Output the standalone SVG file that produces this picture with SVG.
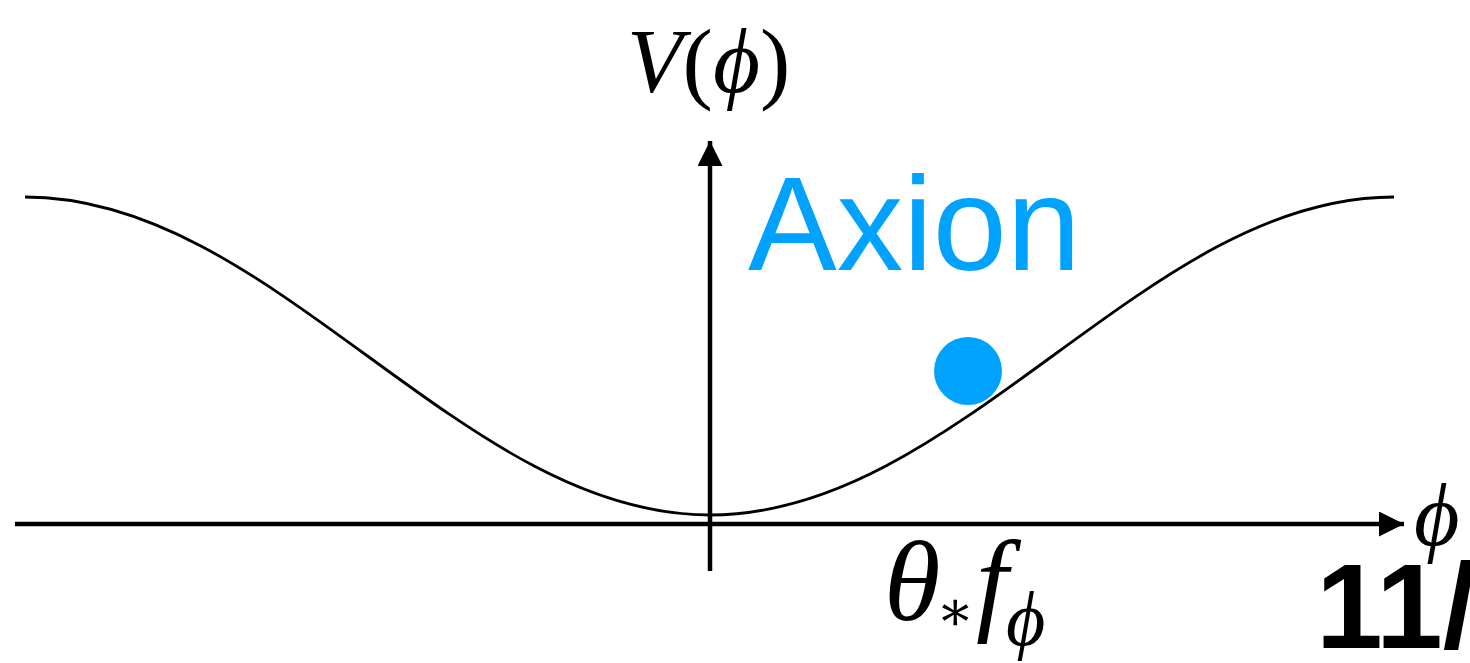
<svg xmlns="http://www.w3.org/2000/svg" width="1470" height="663" viewBox="0 0 1470 663">
<style>
.axis{stroke:#000;stroke-width:4.5;fill:none}
.curve{stroke:#000;stroke-width:2.8;fill:none}
.math{font-family:"Liberation Serif","DejaVu Serif",serif;fill:#000}
.it{font-style:italic}
.axion{font-family:"Liberation Sans",Arial,sans-serif;fill:#00A2FF}
</style>
<defs>
<marker id="ah" markerUnits="userSpaceOnUse" markerWidth="26" markerHeight="26" refX="25" refY="12.5" orient="auto" viewBox="0 0 26 26">
<path d="M0,0 L25,12.5 L0,25 Z" fill="#000"/>
</marker>
</defs>
<rect width="1470" height="663" fill="#fff"/>
<g id="potential">
<path class="curve" d="M25,197 C148.96,197 255.8,274.55 367.5,356 C479.2,437.45 586.04,515 710,515 C833.96,515 940.8,437.45 1052.5,356 C1164.2,274.55 1270.04,197 1394,197"/>
</g>
<g id="connectors">
<line class="axis" x1="15" y1="524" x2="1404" y2="524" marker-end="url(#ah)"/>
<line class="axis" x1="710" y1="571" x2="710" y2="141" marker-end="url(#ah)"/>
</g>
<g id="axion-dot">
<circle cx="968" cy="371" r="34" fill="#00A2FF"/>
</g>
<g id="axion-label">
<text class="axion" x="748" y="270" font-size="133">Axion</text>
</g>
<g id="y-label">
<text class="math" x="627" y="92" font-size="91"><tspan class="it">V</tspan>(<tspan class="it">ϕ</tspan>)</text>
</g>
<g id="x-label">
<text class="math it" x="1414" y="545" font-size="88">ϕ</text>
</g>
<g id="theta-label">
<text class="math it" x="884" y="620" font-size="115">θ</text>
<text class="math" x="936" y="630" font-size="56">∗</text>
<text class="math it" x="976" y="620" font-size="115">f</text>
<text class="math it" x="1006" y="645" font-size="76">ϕ</text>
</g>
<g id="page-number">
<text x="1316" y="648" font-family="Liberation Sans,Arial,sans-serif" font-weight="bold" font-size="120" fill="#000">11/</text>
</g>
</svg>
